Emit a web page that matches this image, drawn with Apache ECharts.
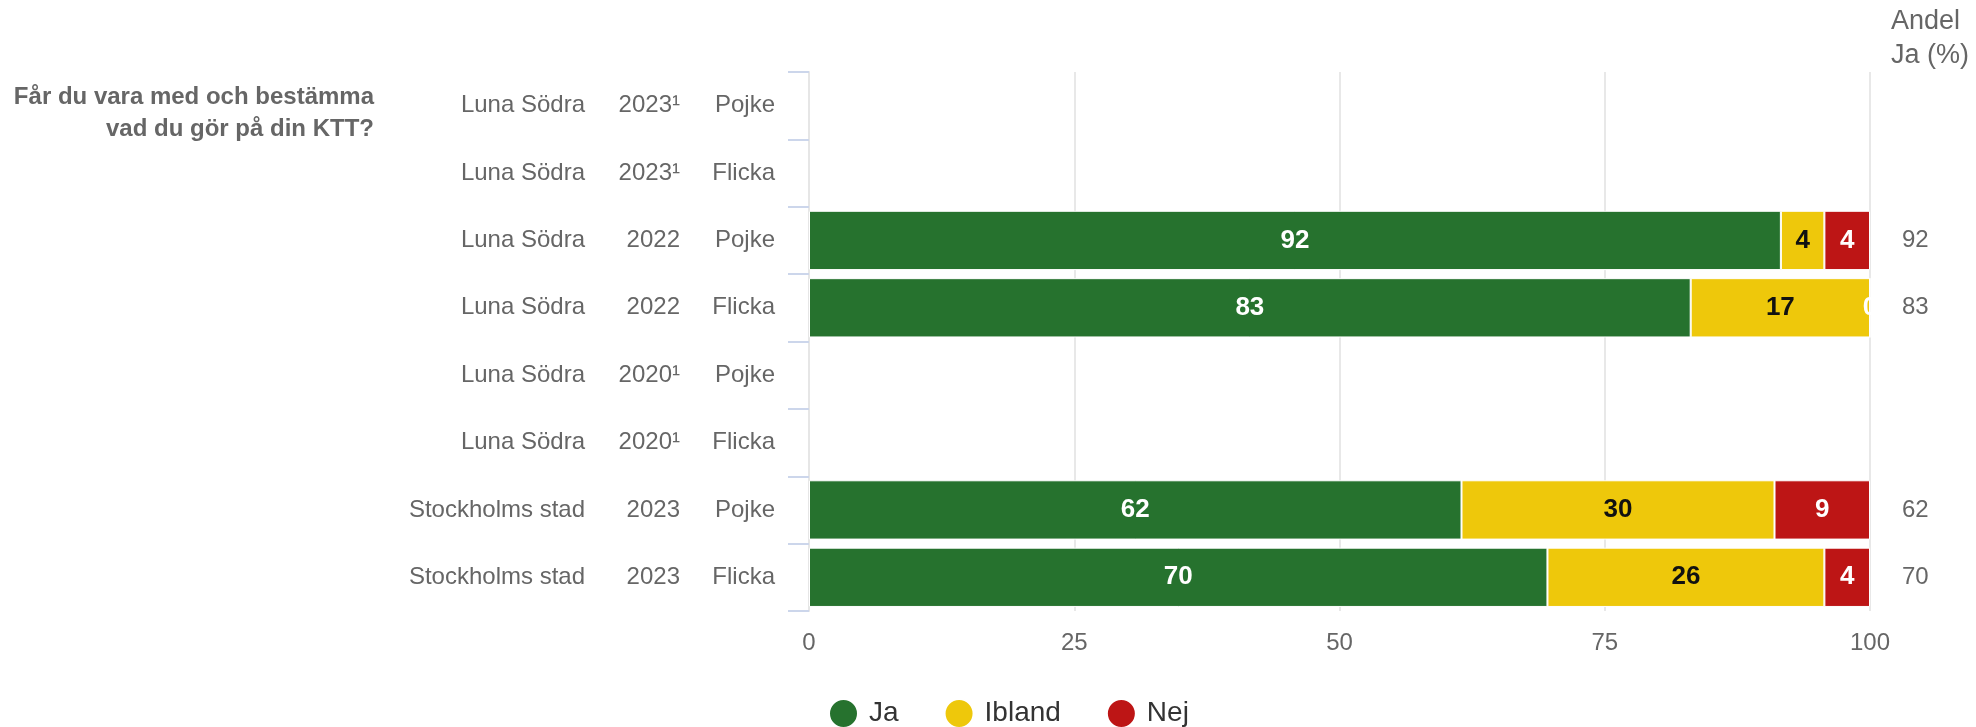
<!DOCTYPE html>
<html>
<head>
<meta charset="utf-8">
<script src="https://cdn.jsdelivr.net/npm/echarts@6/dist/echarts.min.js"></script>
<style>
html,body{margin:0;padding:0;background:#fff;}
#chart{width:1976px;height:727px;}
</style>
</head>
<body>
<div id="chart"></div>
<script>
// Category parts (top to bottom)
const areas   = ['Luna Södra','Luna Södra','Luna Södra','Luna Södra','Luna Södra','Luna Södra','Stockholms stad','Stockholms stad'];
const years   = ['2023¹','2023¹','2022','2022','2020¹','2020¹','2023','2023'];
const genders = ['Pojke','Flicka','Pojke','Flicka','Pojke','Flicka','Pojke','Flicka'];
// Series values (percent)
const ja     = [null, null, 91.6, 83.1, null, null, 61.5, 69.6];
const ibland = [null, null, 4.1, 16.9, null, null, 29.5, 26.1];
const nej    = [null, null, 4.3, 0, null, null, 9.0, 4.3];
const xTicks = [0, 25, 50, 75, 100];
const seriesNames = ['Ja', 'Ibland', 'Nej'];
const questionText = 'Får du vara med och bestämma\nvad du gör på din KTT?';
const rightTitle = 'Andel\nJa (%)';

const categories = areas.map((a, i) => a + '|' + years[i] + '|' + genders[i]);
const colors = ['#26722e', '#eec80b', '#bd1515'];
const labelColors = ['#ffffff', '#111111', '#ffffff'];
const font = "'Liberation Sans', Arial, sans-serif";

const chart = echarts.init(document.getElementById('chart'), null, {renderer: 'canvas'});

function makeSeries(name, data, idx) {
  return {
    name: name,
    type: 'bar',
    stack: 'total',
    barCategoryGap: '12%',
    data: data,
    itemStyle: {color: colors[idx], borderColor: '#ffffff', borderWidth: 1},
    label: {
      show: true,
      position: 'inside',
      color: labelColors[idx],
      fontFamily: font,
      fontSize: 26,
      fontWeight: 'bold',
      formatter: p => (p.value == null ? '' : String(Math.round(p.value)))
    },
    emphasis: {disabled: true}
  };
}

chart.setOption({
  animation: false,
  textStyle: {fontFamily: font},
  grid: {left: 809, right: 106, top: 72, bottom: 116, containLabel: false},
  legend: {
    data: seriesNames,
    left: 823,
    top: 693,
    icon: 'circle',
    itemWidth: 29,
    itemHeight: 29,
    itemGap: 45,
    textStyle: {fontSize: 28, color: '#333333', fontFamily: font, padding: [0, 0, 0, 6]}
  },
  xAxis: {
    type: 'value',
    min: 0,
    max: 100,
    interval: 25,
    axisLine: {show: false},
    axisTick: {show: false},
    splitLine: {show: true, lineStyle: {color: '#e0e0e0', width: 1.5}},
    axisLabel: {
      fontSize: 24, color: '#666666', fontFamily: font, margin: 20,
      formatter: v => (xTicks.indexOf(v) >= 0 ? String(v) : '')
    }
  },
  yAxis: [{
    type: 'category',
    inverse: true,
    data: categories,
    axisLine: {show: true, lineStyle: {color: '#e6e6e6', width: 2}},
    axisTick: {show: true, length: 21, lineStyle: {color: '#ccd6eb', width: 2}},
    axisLabel: {
      margin: 34,
      formatter: (v, i) => '{a|' + areas[i] + '}{b|' + years[i] + '}{c|' + genders[i] + '}',
      rich: {
        a: {width: 220, align: 'right', fontSize: 24, color: '#666666', fontFamily: font},
        b: {width: 95, align: 'right', fontSize: 24, color: '#666666', fontFamily: font},
        c: {width: 95, align: 'right', fontSize: 24, color: '#666666', fontFamily: font}
      }
    }
  }, {
    type: 'category',
    inverse: true,
    position: 'right',
    data: categories,
    axisLine: {show: false},
    axisTick: {show: false},
    axisLabel: {
      margin: 32,
      align: 'left',
      fontSize: 24,
      color: '#666666',
      fontFamily: font,
      formatter: (v, i) => (ja[i] == null ? '' : String(Math.round(ja[i])))
    }
  }],
  graphic: [{
    type: 'text',
    style: {
      x: 374, y: 81,
      text: questionText,
      align: 'right',
      verticalAlign: 'top',
      font: 'bold 24px ' + font,
      fill: '#666666',
      lineHeight: 32
    }
  }, {
    type: 'text',
    style: {
      x: 1891, y: 5,
      text: rightTitle,
      align: 'left',
      verticalAlign: 'top',
      font: '27px ' + font,
      fill: '#666666',
      lineHeight: 34
    }
  }],
  series: [
    makeSeries(seriesNames[0], ja, 0),
    makeSeries(seriesNames[1], ibland, 1),
    makeSeries(seriesNames[2], nej, 2)
  ]
});
</script>
</body>
</html>
